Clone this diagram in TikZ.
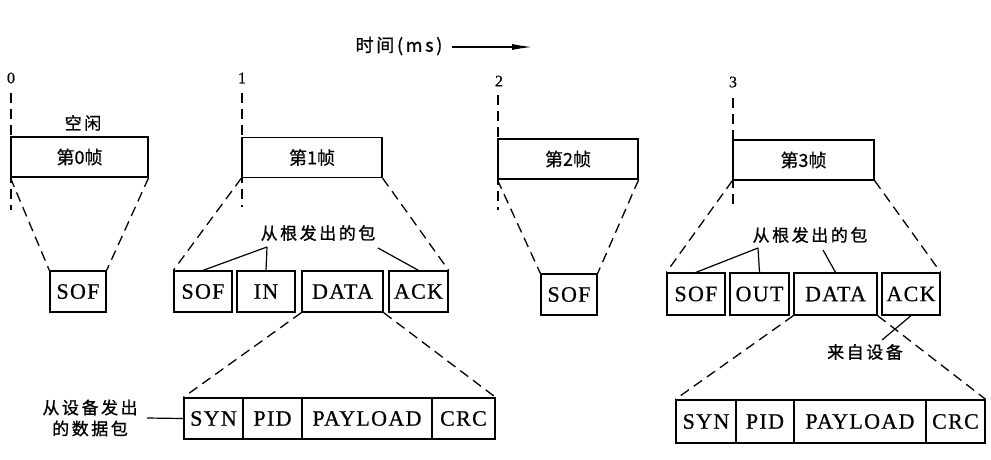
\documentclass[tikz,border=0pt]{standalone}
\usepackage{fontspec}
\setmainfont{Liberation Serif}
\newfontfamily\pkt[LetterSpace=6,FakeBold=0.6]{Liberation Serif}
\newfontfamily\cjk[LetterSpace=15,FakeBold=1]{Noto Sans CJK SC}
\newfontfamily\cjkn[FakeBold=0.6]{Noto Sans CJK SC}
\newfontfamily\numf[FakeBold=0.6]{Liberation Serif}
\usetikzlibrary{arrows.meta}
\begin{document}
\begin{tikzpicture}[x=1pt,y=-1pt,
  box/.style={draw, line width=1.3pt, inner sep=0pt, minimum height=41pt, font=\pkt\fontsize{22}{22}\selectfont},
  frm/.style={draw, line width=1.3pt, inner sep=0pt, minimum width=140pt, minimum height=40pt, font=\cjkn\fontsize{18}{18}\selectfont},
  lbl/.style={inner sep=0pt, font=\cjk\fontsize{17}{21}\selectfont},
  tnum/.style={inner sep=0pt, font=\numf\fontsize{16}{16}\selectfont},
  dsh/.style={line width=1.3pt, dash pattern=on 10pt off 6pt},
  lead/.style={line width=1.2pt}]
\useasboundingbox (0,0) rectangle (991,459);

% title and time arrow
\node[lbl, font=\cjk\fontsize{18}{21}\selectfont] (title) at (399,46) {时间(ms)};
\coordinate (arrS) at (452,47);
\coordinate (arrE) at (532,47);
\draw[line width=1.1pt, -{Latex[length=20pt,width=6pt]}] (arrS) -- (arrE);

% time marks
\node[tnum] (t0) at (11,78) {0};
\node[tnum] (t1) at (242,78) {1};
\node[tnum] (t2) at (499,81) {2};
\node[tnum] (t3) at (733,82) {3};
\coordinate (v0a) at (11,93);  \coordinate (v0b) at (11,210);
\coordinate (v1a) at (242,93); \coordinate (v1b) at (242,207);
\coordinate (v2a) at (498,95); \coordinate (v2b) at (498,210);
\coordinate (v3a) at (733,98); \coordinate (v3b) at (733,210);
\draw[dsh] (v0a) -- (v0b);
\draw[dsh] (v1a) -- (v1b);
\draw[dsh] (v2a) -- (v2b);
\draw[dsh] (v3a) -- (v3b);

% frames
\node[frm, minimum width=137pt, fill=white] (f0) at (79.5,157) {第0帧};
\node[frm, fill=white] (f1) at (312,157.5) {第1帧};
\node[frm, fill=white] (f2) at (568,159) {第2帧};
\node[frm, minimum width=141pt, fill=white] (f3) at (803.5,160) {第3帧};
\node[lbl] (idle) at (83,123) {空闲};

% frame 0
\node[box, minimum width=56pt] (sof0) at (78,291.5) {SOF};
\draw[dsh] (f0.south west) -- (sof0.north west);
\draw[dsh] (f0.south east) -- (sof0.north east);

% frame 1
\node[box, minimum width=58pt] (sof1) at (203,291.5) {SOF};
\node[box, minimum width=58pt] (in1) at (266,291.5) {IN};
\node[box, minimum width=81pt] (data1) at (342.5,291.5) {DATA};
\node[box, minimum width=59pt] (ack1) at (418.5,291.5) {ACK};
\draw[dsh] (f1.south west) -- (sof1.north west);
\draw[dsh] (f1.south east) -- (ack1.north east);
\node[lbl] (root1) at (318,233) {从根发出的包};
\coordinate (r1a) at (267,247);
\coordinate (r1b) at (378,248);
\draw[lead] (r1a) -- (sof1.north);
\draw[lead] (r1a) -- (in1.north);
\draw[lead] (r1b) -- (ack1.north);

\node[box, minimum width=59pt] (syn1) at (213.5,418.5) {SYN};
\node[box, minimum width=59pt] (pid1) at (272.5,418.5) {PID};
\node[box, minimum width=130pt] (pay1) at (367,418.5) {PAYLOAD};
\node[box, minimum width=63pt] (crc1) at (463.5,418.5) {CRC};
\draw[dsh] (data1.south west) -- (syn1.north west);
\draw[dsh] (data1.south east) -- (crc1.north east);
\node[lbl, align=center] (dev1) at (90,418) {从设备发出\\的数据包};
\coordinate (d1a) at (147,418);
\draw[lead] (d1a) -- (syn1.west);

% frame 2
\node[box, minimum width=56pt] (sof2) at (569,294.5) {SOF};
\draw[dsh] (f2.south west) -- (sof2.north west);
\draw[dsh] (f2.south east) -- (sof2.north east);

% frame 3
\node[box, minimum width=58pt, minimum height=42pt] (sof3) at (696,294) {SOF};
\node[box, minimum width=59pt, minimum height=42pt] (out3) at (759.5,294) {OUT};
\node[box, minimum width=83pt, minimum height=42pt] (data3) at (835.5,294) {DATA};
\node[box, minimum width=58pt, minimum height=42pt] (ack3) at (911,294) {ACK};
\draw[dsh] (f3.south west) -- (sof3.north west);
\draw[dsh] (f3.south east) -- (ack3.north east);
\node[lbl] (root3) at (810,235) {从根发出的包};
\coordinate (r3a) at (758,248);
\coordinate (r3b) at (823,250);
\draw[lead] (r3a) -- (sof3.north);
\draw[lead] (r3a) -- (out3.north);
\draw[lead] (r3b) -- (data3.north);
\node[lbl] (fromdev) at (865,352) {来自设备};
\coordinate (fd) at (882,340);
\draw[lead] (ack3.south) -- (fd);

\node[box, minimum width=60pt, minimum height=43pt] (syn3) at (706,421.5) {SYN};
\node[box, minimum width=58pt, minimum height=43pt] (pid3) at (765,421.5) {PID};
\node[box, minimum width=132pt, minimum height=43pt] (pay3) at (860,421.5) {PAYLOAD};
\node[box, minimum width=59pt, minimum height=43pt] (crc3) at (955.5,421.5) {CRC};
\draw[dsh] (data3.south west) -- (syn3.north west);
\draw[dsh] (data3.south east) -- (crc3.north east);
\end{tikzpicture}
\end{document}
